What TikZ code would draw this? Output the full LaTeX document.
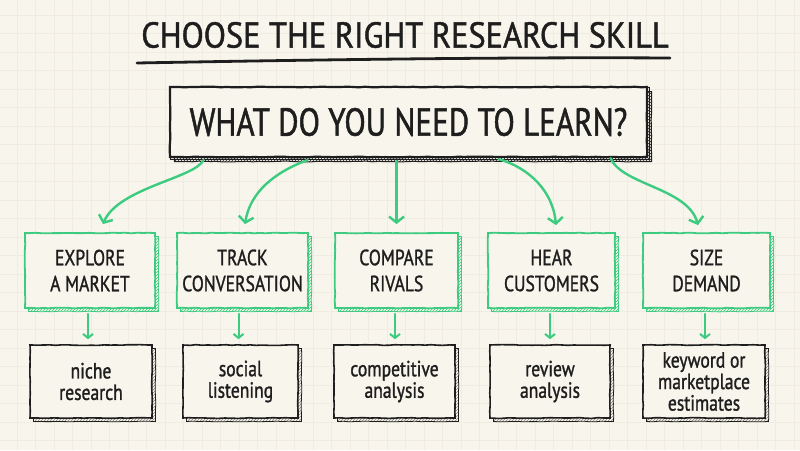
\documentclass[tikz,border=0pt]{standalone}
\usepackage{fontspec}
\setmainfont{PT Sans}
\newfontfamily\hand[FakeStretch=0.8,FakeBold=1.2]{PT Sans}
\newfontfamily\handt[FakeStretch=0.9,FakeBold=1.2]{PT Sans}
\usetikzlibrary{arrows.meta,shadows,decorations.pathmorphing,patterns}
\definecolor{paper}{HTML}{F8F5EC}
\definecolor{gridc}{HTML}{F0ECE2}
\definecolor{grn}{HTML}{3CCB7F}
\definecolor{ink}{HTML}{1E1E1E}
\definecolor{graysh}{HTML}{8A8A86}
\tikzset{
  sketch/.style={decorate, decoration={random steps, segment length=6pt, amplitude=0.35pt}},
  greenbox/.style={sketch, draw=grn, line width=1.8pt, fill=paper, minimum height=75pt,
    align=center, text=ink, inner sep=0pt, font=\hand\fontsize{22}{26}\selectfont,
    general shadow={shadow xshift=3.5pt, shadow yshift=-3.5pt, pattern=north east lines, pattern color=grn, draw=grn, line width=0.8pt}},
  blackbox/.style={sketch, draw=ink, line width=1.6pt, fill=paper, minimum height=73pt,
    align=center, text=ink, inner sep=0pt, font=\hand\fontsize{22}{21.5}\selectfont,
    general shadow={shadow xshift=3.5pt, shadow yshift=-3.5pt, pattern=north east lines, pattern color=graysh, draw=ink, line width=0.8pt}},
  bigarrow/.style={draw=grn, line width=2.4pt, line cap=round, -{Straight Barb[length=6pt,width=15pt,line width=2.4pt]}},
  smallarrow/.style={draw=grn, line width=2pt, line cap=round, -{Straight Barb[length=4pt,width=10pt,line width=2pt]}},
}
\begin{document}
\begin{tikzpicture}[x=1pt,y=-1pt]
\useasboundingbox (0,0) rectangle (800,450);
\fill[paper] (0,0) rectangle (800,450);
\begin{scope}
\clip (0,0) rectangle (800,450);
\foreach \i in {0,...,42} {\draw[gridc, line width=0.5pt] (\i*18.5+17,0) -- (\i*18.5+17,450);}
\foreach \i in {0,...,23} {\draw[gridc, line width=0.5pt] (0,\i*18.5+15) -- (800,\i*18.5+15);}
\end{scope}

% title
\node[text=ink, font=\handt\fontsize{36}{38}\selectfont, inner sep=0pt] (title) at (405,35) {CHOOSE THE RIGHT RESEARCH SKILL};
\draw[ink, line width=2.8pt, line cap=round] (137,63) .. controls (300,60) and (500,57) .. (670,58);

% question box
\node[sketch, draw=ink, line width=2.2pt, fill=paper, minimum width=477pt, minimum height=70pt, inner sep=0pt,
  text=ink, font=\hand\fontsize{39}{42}\selectfont,
  general shadow={shadow xshift=4.5pt, shadow yshift=-4.5pt, pattern=north east lines, pattern color=ink, draw=ink, line width=1pt}]
  (q) at (408.5,122) {WHAT DO YOU NEED TO LEARN?};
\draw[ink, line width=0.8pt] ([shift={(1.5pt,-1.5pt)}]q.north west) rectangle ([shift={(1.5pt,-1.5pt)}]q.south east);

% green boxes
\node[greenbox, minimum width=130pt] (g1) at (90,270.5) {EXPLORE\\A MARKET};
\node[greenbox, minimum width=131pt] (g2) at (242.5,270.5) {TRACK\\CONVERSATION};
\node[greenbox, minimum width=123pt] (g3) at (396.5,270.5) {COMPARE\\RIVALS};
\node[greenbox, minimum width=127pt] (g4) at (551.5,270.5) {HEAR\\CUSTOMERS};
\node[greenbox, minimum width=127pt] (g5) at (706.5,270.5) {SIZE\\DEMAND};

% black boxes
\node[blackbox, minimum width=122pt] (b1) at (91,381.5) {niche\\research};
\node[blackbox, minimum width=115pt] (b2) at (240.5,381.5) {social\\listening};
\node[blackbox, minimum width=121pt] (b3) at (394.5,381.5) {competitive\\analysis};
\node[blackbox, minimum width=120pt] (b4) at (550,381.5) {review\\analysis};
\node[blackbox, minimum width=122pt] (b5) at (704,381.5) {keyword or\\marketplace\\estimates};

% big arrows
\draw[bigarrow] ([xshift=-205pt,yshift=-2pt]q.south) .. controls (195,178) and (118,188) .. ([xshift=13pt,yshift=8pt]g1.north);
\draw[bigarrow] ([xshift=-101pt,yshift=-2pt]q.south) .. controls (275,172) and (250,192) .. ([xshift=2.5pt,yshift=8pt]g2.north);
\draw[bigarrow] ([yshift=-3pt]q.south -| g3.north) -- ([yshift=8pt]g3.north);
\draw[bigarrow] ([xshift=90pt,yshift=-1pt]q.south) .. controls (530,168) and (553,192) .. ([xshift=4.5pt,yshift=7pt]g4.north);
\draw[bigarrow] ([xshift=202pt]q.south) .. controls (622,185) and (688,188) .. ([xshift=-8.5pt,yshift=7pt]g5.north);

% small arrows
\foreach \k/\dx in {1/-2,2/-4,3/-1.5,4/-1.5,5/-1.5} {
  \draw[smallarrow] ([xshift=\dx pt,yshift=-5pt]g\k.south) -- ([xshift=\dx pt,yshift=5pt]g\k.south |- b\k.north);
}
\end{tikzpicture}
\end{document}
